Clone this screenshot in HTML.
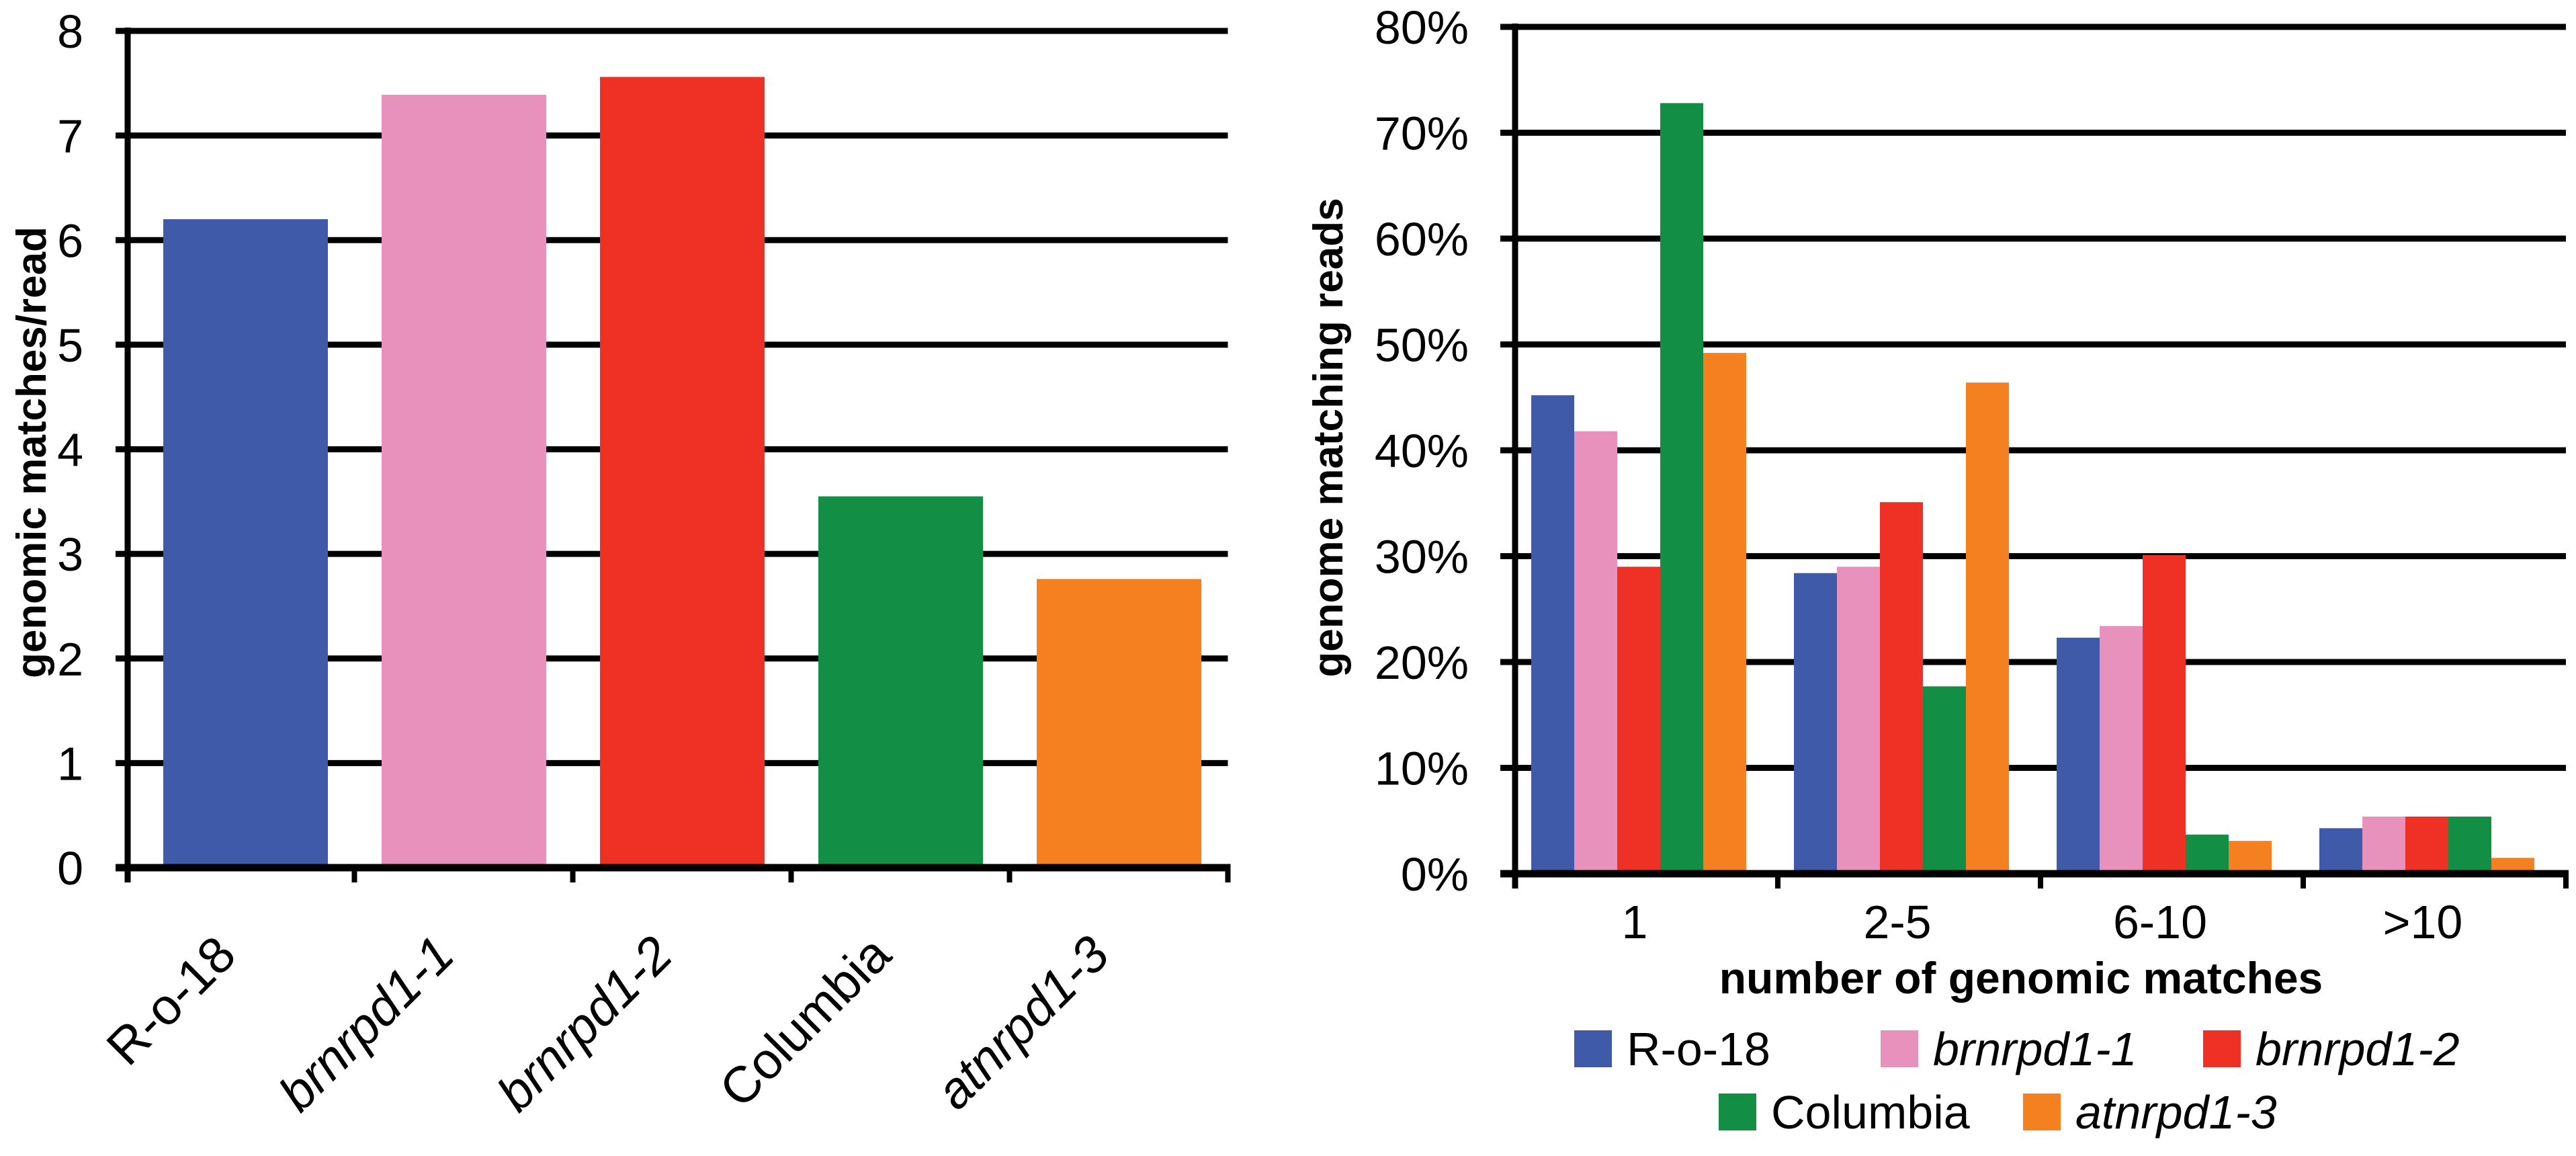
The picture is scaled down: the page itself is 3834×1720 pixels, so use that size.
<!DOCTYPE html>
<html><head><meta charset="utf-8"><style>
html,body{margin:0;padding:0;background:#fff;width:3834px;height:1720px;overflow:hidden}
svg{display:block}
text{font-family:"Liberation Sans",Arial,sans-serif;fill:#000}
</style></head><body>
<svg id="fig" xmlns="http://www.w3.org/2000/svg" width="3834" height="1720" viewBox="0 0 3834 1720">
<g id="left"></g>
<g id="right"></g>
</svg>
<script>
// Left chart data
const leftCategories = ["R-o-18", "brnrpd1-1", "brnrpd1-2", "Columbia", "atnrpd1-3"];
const leftItalic = [false, true, true, false, true];
const leftValues = [6.2, 7.39, 7.56, 3.55, 2.76];
const leftTicks = [0, 1, 2, 3, 4, 5, 6, 7, 8];
// Right chart data
const rightCategories = ["1", "2-5", "6-10", ">10"];
const seriesNames = ["R-o-18", "brnrpd1-1", "brnrpd1-2", "Columbia", "atnrpd1-3"];
const seriesRo18 = [45.2, 28.4, 22.3, 4.3];
const seriesBr11 = [41.8, 29.0, 23.4, 5.4];
const seriesBr12 = [29.0, 35.1, 30.1, 5.4];
const seriesCol = [72.8, 17.7, 3.7, 5.4];
const seriesAt13 = [49.2, 46.4, 3.1, 1.5];
const rightTicks = [0, 10, 20, 30, 40, 50, 60, 70, 80];

const colors = ["#3F5AA8", "#E991BD", "#EE3124", "#138F45", "#F58020"];
const NS = "http://www.w3.org/2000/svg";
function mk(parent, tag, attrs, txt) {
  const e = document.createElementNS(NS, tag);
  for (const k in attrs) e.setAttribute(k, attrs[k]);
  if (txt !== undefined) e.textContent = txt;
  parent.appendChild(e);
  return e;
}

// ---------- LEFT ----------
(function () {
  const g = document.getElementById("left");
  const x0 = 190, firstCenter = 365, cw = 325, yBase = 1291, yTop = 46, vmax = 8;
  const x1 = firstCenter + (leftCategories.length - 0.5) * cw;
  const y = v => yBase - v / vmax * (yBase - yTop);
  const cx = i => firstCenter + i * cw;
  leftTicks.forEach(t => {
    const gl = mk(g, "line", {x1: x0 - 18, x2: x1, y1: y(t), y2: y(t), stroke: "#000", "stroke-width": 9});
    
    
    const tl = mk(g, "text", {x: 124, y: y(t) + 25, "text-anchor": "end", "font-size": 70}, String(t));
    
    
  });
  leftValues.forEach((v, i) => {
    const r = mk(g, "rect", {x: cx(i) - 122, y: y(v), width: 245, height: yBase - y(v), fill: colors[i]});
    
    
  });
  mk(g, "line", {x1: x0, x2: x0, y1: yTop - 5, y2: yBase + 22, stroke: "#000", "stroke-width": 9});
  mk(g, "line", {x1: x0 - 18, x2: x1 + 4, y1: yBase, y2: yBase, stroke: "#000", "stroke-width": 11});
  mk(g, "line", {x1: x0, x2: x0, y1: yBase, y2: yBase + 22, stroke: "#000", "stroke-width": 8});
  for (let i = 1; i <= leftCategories.length; i++) {
    const tx = cx(i) - cw / 2;
    mk(g, "line", {x1: tx, x2: tx, y1: yBase, y2: yBase + 22, stroke: "#000", "stroke-width": 8});
  }
  leftCategories.forEach((c, i) => {
    const ax = cx(i) - 10, ay = 1425;
    const t = mk(g, "text", {x: ax, y: ay, "text-anchor": "end", "font-size": 76,
      transform: `rotate(-45 ${ax} ${ay})`, "font-style": leftItalic[i] ? "italic" : "normal"}, c);
    
    
  });
  const yt = mk(g, "text", {x: 0, y: 0, "text-anchor": "middle", "font-size": 62, "font-weight": "bold",
    transform: "translate(68 673) rotate(-90)"}, "genomic matches/read");
  
  
})();

// ---------- RIGHT ----------
(function () {
  const g = document.getElementById("right");
  const series = [seriesRo18, seriesBr11, seriesBr12, seriesCol, seriesAt13];
  const x0 = 2255, cw = 391, yBase = 1300, yTop = 40, vmax = 80;
  const x1 = x0 + cw * rightCategories.length;
  const y = v => yBase - v / vmax * (yBase - yTop);
  const bw = 64;
  rightTicks.forEach(t => {
    const gl = mk(g, "line", {x1: x0 - 22, x2: x1, y1: y(t), y2: y(t), stroke: "#000", "stroke-width": 9});
    
    
    const tl = mk(g, "text", {x: 2186, y: y(t) + 25, "text-anchor": "end", "font-size": 70}, t + "%");
    
    
  });
  series.forEach((s, si) => {
    s.forEach((v, ci) => {
      const bx = x0 + ci * cw + 24 + si * bw;
      const r = mk(g, "rect", {x: bx, y: y(v), width: bw, height: yBase - y(v), fill: colors[si]});
      
      
    });
  });
  mk(g, "line", {x1: x0, x2: x0, y1: yTop - 5, y2: yBase + 22, stroke: "#000", "stroke-width": 9});
  mk(g, "line", {x1: x0 - 22, x2: x1 + 4, y1: yBase, y2: yBase, stroke: "#000", "stroke-width": 11});
  for (let i = 0; i <= rightCategories.length; i++) {
    mk(g, "line", {x1: x0 + i * cw, x2: x0 + i * cw, y1: yBase, y2: yBase + 22, stroke: "#000", "stroke-width": 8});
  }
  rightCategories.forEach((c, i) => {
    const t = mk(g, "text", {x: x0 + i * cw + 24 + 2.5 * bw - 6, y: 1396, "text-anchor": "middle", "font-size": 70}, c);
    
    
  });
  const xt = mk(g, "text", {x: 3008, y: 1478, "text-anchor": "middle", "font-size": 66, "font-weight": "bold"}, "number of genomic matches");
  
  
  const yt = mk(g, "text", {x: 0, y: 0, "text-anchor": "middle", "font-size": 62, "font-weight": "bold",
    transform: "translate(1998 651) rotate(-90)"}, "genome matching reads");
  
  
  // legend
  const legPos = [[2343, 1533], [2799, 1533], [3279, 1533], [2558, 1627], [3011, 1627]];
  seriesNames.forEach((n, i) => {
    const lg = mk(g, "g", {});
    
    
    mk(lg, "rect", {x: legPos[i][0], y: legPos[i][1], width: 56, height: 55, fill: colors[i]});
    mk(lg, "text", {x: legPos[i][0] + 78, y: legPos[i][1] + 52, "font-size": 70,
      "font-style": (i === 0 || i === 3) ? "normal" : "italic"}, n);
  });
})();
</script>
</body></html>
